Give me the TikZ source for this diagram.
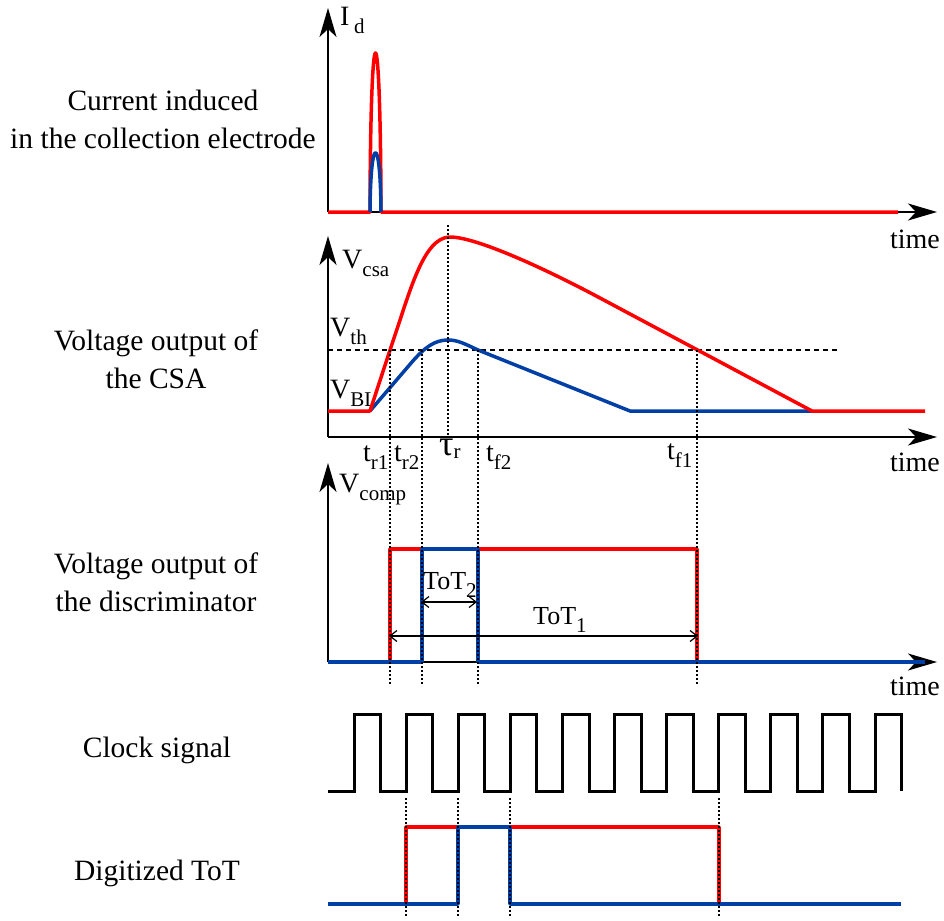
\documentclass[tikz,border=0pt]{standalone}
\usepackage{fontspec}
\setmainfont{Liberation Serif}
\usetikzlibrary{arrows.meta,positioning}
\definecolor{sigred}{RGB}{255,0,0}
\definecolor{sigblue}{RGB}{0,64,166}
\newcommand{\lowidx}[1]{\raisebox{-8pt}{\fontsize{21}{21}\selectfont #1}}

\begin{document}
\begin{tikzpicture}[x=1pt,y=-1pt,
  axis/.style={line width=1.5pt,-{Stealth[length=29pt,width=17pt,inset=8pt]}},
  redline/.style={sigred,line width=3.5pt,line join=round},
  blueline/.style={sigblue,line width=3.5pt,line join=round},
  clockline/.style={black,line width=3pt},
  guide/.style={line width=1.5pt,dash pattern=on 1.5pt off 2.5pt},
  thline/.style={line width=1.2pt,dash pattern=on 5pt off 4pt},
  span/.style={line width=1.2pt,{Straight Barb[length=7pt,width=11pt]}-{Straight Barb[length=7pt,width=11pt]}},
  txt/.style={font=\fontsize{29.5}{38}\selectfont,inner sep=0pt},
  tag/.style={font=\fontsize{28}{34}\selectfont,inner sep=0pt,anchor=base west}]
\useasboundingbox (0,0) rectangle (944,920);

% row labels
\node[txt, align=center] (lblcur) at (163,119) {Current induced\\in the collection electrode};
\node[txt, align=center] (lblcsa) at (156,359) {Voltage output of\\the CSA};
\node[txt, align=center] (lbldisc) at (156,582) {Voltage output of\\the discriminator};
\node[txt] (lblclk) at (157,750) {Clock signal};
\node[txt] (lbldig) at (157,873) {Digitized ToT};

% current
\coordinate (o1) at (328,212);
\coordinate (y1) at (328,8);
\coordinate (x1) at (937,212);
\draw[axis] (o1) -- (y1);
\draw[axis] (o1) -- (x1);
\node[tag] (id) at (340,26) {I\,\lowidx{d}};
\node[tag, anchor=base east] (time1) at (940,248) {time};
\draw[redline] (o1) -- (370,212) .. controls (370.5,0) and (380.5,0) .. (381,212) -- (898,212);
\draw[blueline] (370,212) .. controls (370.5,133) and (380.5,133) .. (381,212);

% CSA output
\coordinate (o2) at (328,437);
\coordinate (y2) at (328,236);
\coordinate (x2) at (937,437);
\draw[axis] (o2) -- (y2);
\draw[axis] (o2) -- (x2);
\node[tag] (vcsa) at (342,268) {V\lowidx{csa}};
\node[tag] (vth) at (330,336) {V\lowidx{th}};
\node[tag] (vbl) at (330,398) {V\lowidx{BL}};
\node[tag, anchor=base east] (time2) at (940,471) {time};
\coordinate (th0) at (328,350);
\coordinate (th1) at (838,350);
\draw[thline] (th0) -- (th1);
\draw[blueline] (370,411) -- (412,362) .. controls (425,347) and (435,340) .. (448,340)
  .. controls (458,340) and (465,344) .. (478,350) -- (630,411) -- (812,411);
\draw[redline] (328,411) -- (370,411) -- (393,341) .. controls (409,295) and (423,237) .. (450,237)
  .. controls (475,237) and (540,266) .. (600,298) -- (812,411) -- (925,411);
\node[tag] (tr1) at (363,461) {t\lowidx{r1}};
\node[tag] (tr2) at (394,461) {t\lowidx{r2}};
\node[tag, font=\fontsize{36}{36}\selectfont] (taur) at (439,455) {τ\raisebox{-3pt}{\fontsize{21}{21}\selectfont r}};
\node[tag] (tf2) at (486,461) {t\lowidx{f2}};
\node[tag] (tf1) at (667,459) {t\lowidx{f1}};

% discriminator output
\coordinate (o3) at (328,662);
\coordinate (y3) at (328,463);
\coordinate (x3) at (937,662);
\draw[axis] (o3) -- (y3);
\draw[axis] (o3) -- (x3);
\node[tag] (vcomp) at (339,492) {V\lowidx{comp}};
\node[tag, anchor=base east] (time3) at (940,695) {time};
\draw[redline] (o3) -- (390,662) -- (390,549) -- (697,549) -- (697,662) -- (925,662);
\draw[blueline] (o3) -- (422,662) -- (422,549) -- (478,549) -- (478,662) -- (925,662);

% threshold crossings
\draw[guide] (448,225) -- (448,437);
\foreach \t in {390,422,478,697}
  \draw[guide] (\t,350) -- (\t,686);

\coordinate (tot2a) at (421,602);
\coordinate (tot2b) at (477,602);
\coordinate (tot1a) at (389,636);
\coordinate (tot1b) at (698,636);
\draw[span] (tot2a) -- (tot2b);
\draw[span] (tot1a) -- (tot1b);
\node[tag, font=\fontsize{26}{30}\selectfont] (tot2) at (423,589) {ToT\lowidx{2}};
\node[tag, font=\fontsize{26}{30}\selectfont] (tot1) at (533,624) {ToT\lowidx{1}};

% clock
\draw[clockline] (328,791) -- (354,791)
  \foreach \k in {0,...,9}{ -- ++(0,-77) -- ++(26.6,0) -- ++(0,77) -- ++(25.5,0)}
  -- ++(0,-77) -- ++(26.6,0) -- ++(0,77);

% digitized ToT
\draw[redline] (328,904) -- (406,904) -- (406,827) -- (719,827) -- (719,904) -- (901,904);
\draw[blueline] (328,904) -- (458,904) -- (458,827) -- (510,827) -- (510,904) -- (901,904);
\foreach \t in {406,458,510,719}
  \draw[guide] (\t,798) -- (\t,918);
\end{tikzpicture}
\end{document}
